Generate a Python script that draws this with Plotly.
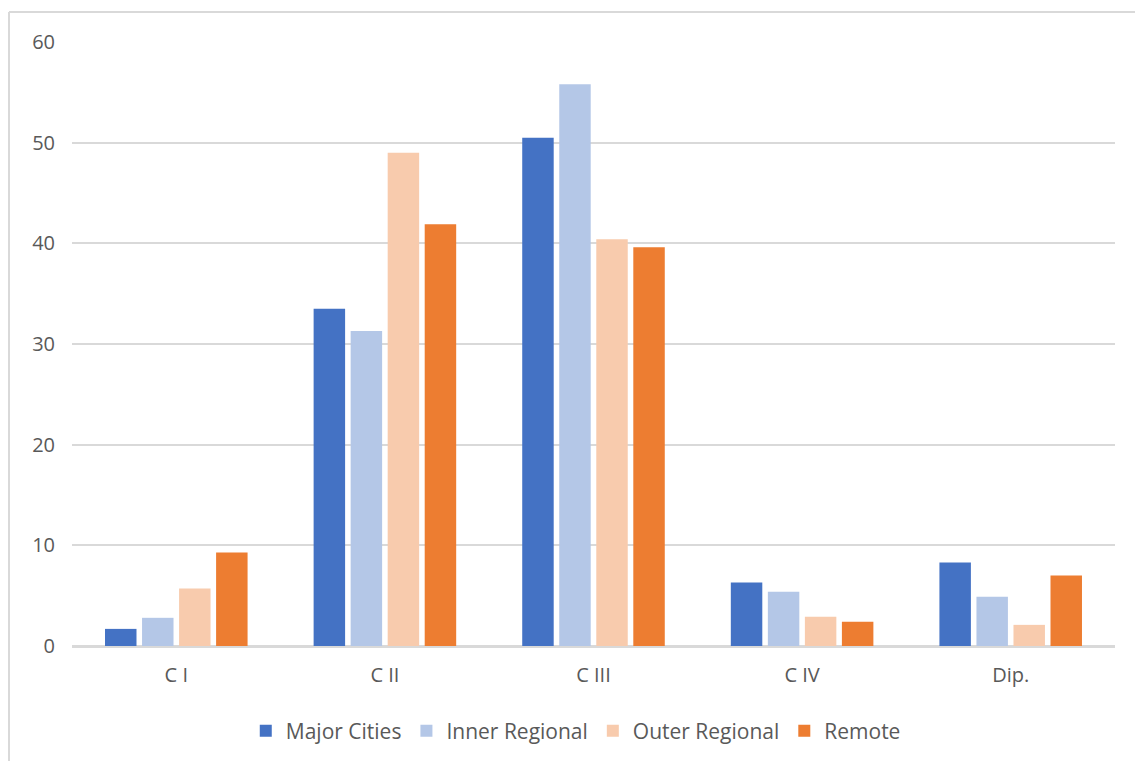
import plotly.graph_objects as go

# Categories on the x axis
categories = ["C I", "C II", "C III", "C IV", "Dip."]

# Series values (percent) per remoteness area
major_cities = [1.7, 33.5, 50.5, 6.3, 8.3]
inner_regional = [2.8, 31.3, 55.8, 5.4, 4.9]
outer_regional = [5.7, 49.0, 40.4, 2.9, 2.1]
remote = [9.3, 41.9, 39.6, 2.4, 7.0]

series_names = ["Major Cities", "Inner Regional", "Outer Regional", "Remote"]
series_values = [major_cities, inner_regional, outer_regional, remote]
series_colors = ["#4472C4", "#B4C7E7", "#F8CBAD", "#ED7D31"]

y_ticks = [0, 10, 20, 30, 40, 50, 60]

W, H = 1135, 761
ML, MR, MT, MB = 72, 20, 42, 115
TEXT = "#595959"
GRID = "#D9D9D9"
FONT = "Open Sans"
FS = 20

fig = go.Figure()
for name, vals, col in zip(series_names, series_values, series_colors):
    fig.add_trace(go.Bar(
        x=categories, y=vals, name=name,
        marker=dict(color=col, line=dict(width=0)),
    ))


def px_x(p):
    return (p - ML) / (W - ML - MR)


def px_y(p):
    return (H - MB - p) / (H - MT - MB)


# Light frame around the chart area (left and top edges)
fig.add_shape(type="line", xref="paper", yref="paper",
              x0=px_x(9), x1=px_x(9), y0=px_y(12), y1=px_y(H + 5),
              line=dict(color=GRID, width=2))
fig.add_shape(type="line", xref="paper", yref="paper",
              x0=px_x(9), x1=px_x(W + 5), y0=px_y(12), y1=px_y(12),
              line=dict(color=GRID, width=2))

fig.update_layout(
    width=W, height=H,
    margin=dict(l=ML, r=MR, t=MT, b=MB, autoexpand=False),
    paper_bgcolor="white", plot_bgcolor="white",
    barmode="group", bargap=0.29, bargroupgap=0.15,
    font=dict(family=FONT, size=FS, color=TEXT),
    showlegend=True,
    legend=dict(orientation="h", x=0.483, xanchor="center",
                y=px_y(731), yanchor="middle",
                font=dict(family=FONT, size=21, color=TEXT),
                itemwidth=30, traceorder="normal"),
    xaxis=dict(showgrid=False, showline=True, linecolor=GRID, linewidth=2,
               ticks="", ticklabelstandoff=10,
               tickfont=dict(family=FONT, size=FS, color=TEXT)),
    yaxis=dict(range=[0, 60], tickvals=y_ticks, showgrid=True,
               gridcolor=GRID, gridwidth=2, zeroline=True,
               zerolinecolor=GRID, zerolinewidth=2, showline=False,
               ticks="", ticklabelstandoff=16,
               tickfont=dict(family=FONT, size=FS, color=TEXT)),
)

fig.write_html("out.html")
